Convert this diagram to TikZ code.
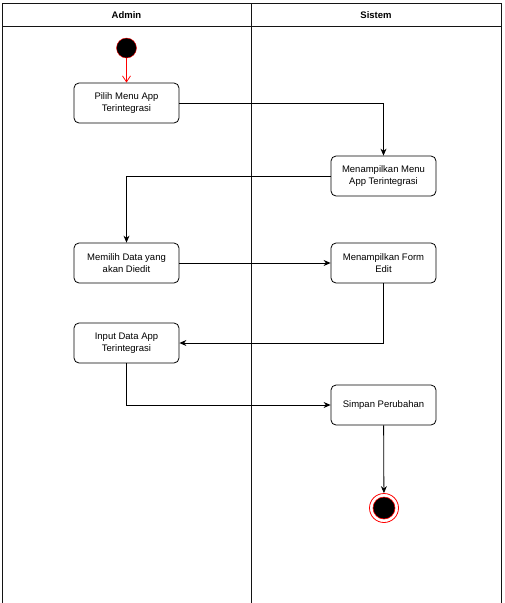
\documentclass[tikz,border=0pt]{standalone}
\usepackage{fontspec}
\setmainfont{Liberation Sans}
\usetikzlibrary{arrows.meta,positioning}
\definecolor{umlred}{RGB}{255,0,0}
\definecolor{lanegray}{RGB}{20,20,20}

\begin{document}
\begin{tikzpicture}[x=1pt, y=-1pt, font=\fontsize{9.5}{12}\selectfont,
  act/.style={draw, rounded corners=5pt, line width=0.8pt, minimum width=105pt, minimum height=40pt, align=center, inner sep=2pt},
  flow/.style={-{Stealth[length=7pt,width=6pt]}, line width=0.8pt},
  lane/.style={line width=1pt, lanegray}]
\useasboundingbox (0,0) rectangle (505,603);
% Swimlanes
\draw[lane] (2,603) -- (2,3) -- (501,3) -- (501,603);
\draw[lane] (2,26) -- (501,26);
\draw[lane] (251,3) -- (251,603);
\node[font=\fontsize{9.5}{12}\selectfont\bfseries] (admin) at (126.5,15) {Admin};
\node[font=\fontsize{9.5}{12}\selectfont\bfseries] (sistem) at (376,15) {Sistem};
% Activities
\node[circle, fill=black, draw=umlred, minimum size=20pt, inner sep=0pt] (mulai) at (126.5,48) {};
\node[act] (pilih) at (126.5,103) {Pilih Menu App\\Terintegrasi};
\node[act] (tampilmenu) at (383.5,176) {Menampilkan Menu\\App Terintegrasi};
\node[act] (memilih) at (126.5,263) {Memilih Data yang\\akan Diedit};
\node[act] (tampilform) at (383.5,263) {Menampilkan Form\\Edit};
\node[act] (input) at (126.5,343) {Input Data App\\Terintegrasi};
\node[act] (simpan) at (383.5,405) {Simpan Perubahan};
\node[circle, draw=umlred, line width=0.8pt, minimum size=29pt, inner sep=0pt] (selesai) at (384,508) {};
\fill[black, draw=umlred, line width=0.6pt] (selesai.center) circle (11);
% Flow
\draw[-{Straight Barb[length=6pt,width=8pt]}, umlred, line width=0.8pt] (mulai) -- (pilih);
\draw[flow] (pilih.east) -| (tampilmenu.north);
\draw[flow] (tampilmenu.west) -| (memilih.north);
\draw[flow] (memilih) -- (tampilform);
\draw[flow] (tampilform.south) |- (input.east);
\draw[flow] (input.south) |- (simpan.west);
\draw[flow] (simpan) -- (selesai);
\end{tikzpicture}
\end{document}
